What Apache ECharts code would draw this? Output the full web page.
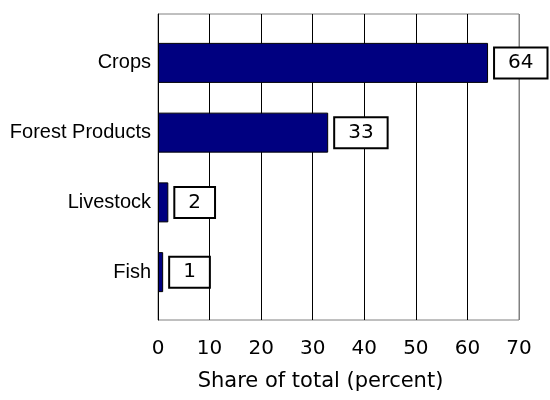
<!DOCTYPE html>
<html>
<head>
<meta charset="utf-8">
<script src="https://cdn.jsdelivr.net/npm/echarts@6/dist/echarts.min.js"></script>
<style>html,body{margin:0;padding:0;background:#fff;}#c{width:550px;height:400px;}</style>
</head>
<body>
<div id="c"></div>
<script>
const categories = ['Crops', 'Forest Products', 'Livestock', 'Fish'];
const shares = [64, 33, 2, 1];
const xTicks = [0, 10, 20, 30, 40, 50, 60, 70];
const axisTitle = 'Share of total (percent)';

const chart = echarts.init(document.getElementById('c'));
chart.setOption({
  animation: false,
  backgroundColor: '#fff',
  grid: [
    {left: 158, right: 31, top: 14, bottom: 80, show: true, borderColor: '#808080', borderWidth: 1, containLabel: false, outerBoundsMode: 'none'},
    {left: 158, right: 31, top: 28, bottom: 93, containLabel: false, outerBoundsMode: 'none'}
  ],
  xAxis: [
    {
      gridIndex: 0, type: 'value', min: xTicks[0], max: xTicks[xTicks.length - 1], interval: 10,
      axisLine: {show: false}, axisTick: {show: false},
      axisLabel: {margin: 19, color: '#000', fontFamily: 'DejaVu Sans', fontSize: 20},
      splitLine: {show: true, lineStyle: {color: ['#000', '#000', '#000', '#000', '#000', '#000', '#000', '#808080'], width: 1}},
      name: axisTitle, nameLocation: 'middle', nameGap: 51,
      nameTextStyle: {color: '#000', fontFamily: 'DejaVu Sans', fontSize: 21, padding: [0, 36, 0, 0]}
    },
    {
      gridIndex: 1, type: 'value', min: xTicks[0], max: xTicks[xTicks.length - 1],
      show: false
    }
  ],
  yAxis: [
    {gridIndex: 0, type: 'value', show: true, axisLine: {show: true, lineStyle: {color: '#000', width: 1}},
     axisLabel: {show: false}, axisTick: {show: false}, splitLine: {show: false}},
    {
      gridIndex: 1, type: 'category', data: categories, inverse: true,
      axisLine: {show: false}, axisTick: {show: false},
      axisLabel: {margin: 7, color: '#000', fontFamily: 'Liberation Sans', fontSize: 20}
    }
  ],
  series: [{
    type: 'bar', xAxisIndex: 1, yAxisIndex: 1, data: shares, barWidth: 40,
    itemStyle: {color: '#000080', borderColor: '#000', borderWidth: 1},
    label: {
      show: true, position: 'right', distance: 7,
      color: '#000', fontFamily: 'DejaVu Sans', fontSize: 20,
      backgroundColor: '#fff', borderColor: '#000', borderWidth: 2,
      padding: [5, 13, 4, 13]
    }
  }]
});
</script>
</body>
</html>
